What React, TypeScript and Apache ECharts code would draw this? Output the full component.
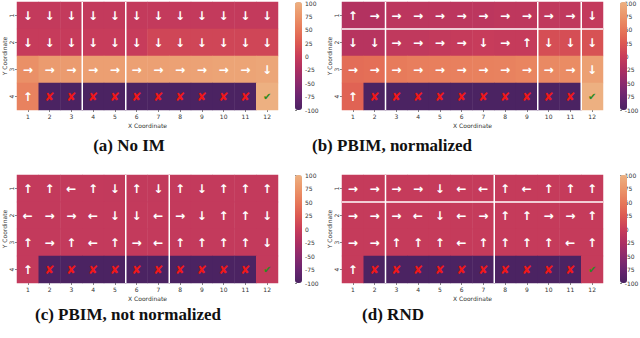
import React, { useEffect, useRef } from "react";
import * as echarts from "echarts";

const xCategories = ["1", "2", "3", "4", "5", "6", "7", "8", "9", "10", "11", "12"];
const yCategories = ["1", "2", "3", "4"];
const colorbarMin = -100;
const colorbarMax = 100;
const colorbarStep = 25;

// Cell values (rows = Y coordinate 1..4, columns = X coordinate 1..12)
const valuesNoIM = [
  [-5, -5, -5, -5, -5, -5, -5, -5, -5, -5, -5, -5],
  [-3, -3, -3, -2, -2, -2, 8, 8, 8, 8, 8, 8],
  [70, 80, 80, 84, 84, 85, 85, 86, 87, 88, 88, 90],
  [58, -100, -100, -100, -100, -100, -100, -100, -100, -100, -100, 100],
];
const valuesPBIMNorm = [
  [-20, -20, -12, -12, -12, -12, -12, -10, -10, -8, -8, -5],
  [-16, -16, -8, -8, -6, -4, -2, -4, -4, 15, 15, 18],
  [40, 42, 52, 54, 55, 56, 57, 58, 60, 64, 66, 85],
  [32, -100, -100, -100, -100, -100, -100, -100, -100, -100, -100, 100],
];
const valuesPBIMNotNorm = [
  [-5, -5, -5, -5, -6, -6, -6, -5, -5, -5, -5, -5],
  [-5, -5, -5, -5, -5, -5, -5, -5, -5, -5, -5, -5],
  [-5, -5, -5, -5, -5, -5, -5, -5, -5, -5, -5, -5],
  [-5, -100, -100, -100, -100, -100, -100, -100, -100, -100, -100, -5],
];
const valuesRND = [
  [-4, -4, -4, -4, -4, -4, -4, -4, -4, -4, -4, -4],
  [-4, -4, -4, -4, -4, -4, -4, -4, -4, -4, -4, -4],
  [-4, -4, -4, -4, -4, -4, -4, -4, -4, -4, -4, -4],
  [-4, -100, -100, -100, -100, -100, -100, -100, -100, -100, -100, -4],
];

// Policy glyph codes: U up, D down, L left, R right, X cliff, G goal
const arrowsNoIM = ["DDDDDDDDDDDD", "DDDDDDDDDDDD", "RRRRRRRRRRRD", "UXXXXXXXXXXG"];
const arrowsPBIMNorm = ["URRRRRRRRRRD", "DDRRRRDRUDDD", "RRRRRRRRRRRD", "UXXXXXXXXXXG"];
const arrowsPBIMNotNorm = ["UULUDUDUDUUU", "LRRLDDLRDUUD", "URULURLUUUUD", "UXXXXXXXXXXG"];
const arrowsRND = ["RRRRDLLULUUU", "RRRLDLRUURRU", "RRUUULUUUULU", "UXXXXXXXXXXG"];

// White separator lines: [boundary index, orientation 0 = vertical, 1 = horizontal]
const wallsNoIM = [[3, 0], [5, 0]];
const wallsPBIMNorm = [[2, 0], [9, 0], [11, 0], [1, 1]];
const wallsPBIMNotNorm = [[5, 0], [7, 0]];
const wallsRND = [[2, 0], [7, 0], [1, 1]];

const captions = ["(a) No IM", "(b) PBIM, normalized", "(c) PBIM, not normalized", "(d) RND"];

const glyphs: Record<string, string> = { U: "↑", D: "↓", L: "←", R: "→", X: "✘", G: "✔" };

const palette = [
  "#4b2362", "#6a2570", "#8c2a6d", "#ad2f62", "#c93d5a",
  "#dd5a52", "#e7795a", "#eb966a", "#edb081",
];

const layout = [
  { grid: { left: 15, top: 2, width: 263, height: 108 }, bar: 295, cap: [129, 148] },
  { grid: { left: 342, top: 2, width: 261, height: 108 }, bar: 620, cap: [392, 148] },
  { grid: { left: 15, top: 175, width: 263, height: 108 }, bar: 295, cap: [128, 317] },
  { grid: { left: 342, top: 175, width: 261, height: 108 }, bar: 620, cap: [393, 317] },
];

const panelValues = [valuesNoIM, valuesPBIMNorm, valuesPBIMNotNorm, valuesRND];
const panelArrows = [arrowsNoIM, arrowsPBIMNorm, arrowsPBIMNotNorm, arrowsRND];
const panelWalls = [wallsNoIM, wallsPBIMNorm, wallsPBIMNotNorm, wallsRND];

const axisFont = { fontFamily: "DejaVu Sans", fontSize: 6, color: "#333" };

function buildOption() {
  const grids: any[] = [];
  const xAxes: any[] = [];
  const yAxes: any[] = [];
  const heatSeries: any[] = [];
  const wallSeries: any[] = [];
  const visualMaps: any[] = [];

  layout.forEach((L, i) => {
    grids.push({ ...L.grid });
    xAxes.push({
      type: "category", gridIndex: i, data: xCategories,
      name: "X Coordinate", nameLocation: "middle", nameGap: 12,
      nameTextStyle: { ...axisFont },
      axisLine: { show: false }, splitLine: { show: false },
      axisTick: { show: true, alignWithLabel: true, length: 2, lineStyle: { color: "#333", width: 0.6 } },
      axisLabel: { ...axisFont, margin: 3 },
    });
    yAxes.push({
      type: "category", gridIndex: i, data: yCategories, inverse: true,
      name: "Y Coordinate", nameLocation: "middle", nameGap: 10,
      nameTextStyle: { ...axisFont },
      axisLine: { show: false }, splitLine: { show: false },
      axisTick: { show: true, alignWithLabel: true, length: 2, lineStyle: { color: "#333", width: 0.6 } },
      axisLabel: { ...axisFont, margin: 3, rotate: 90 },
    });
  });

  // colorbar label axes
  layout.forEach((L, i) => {
    grids.push({ left: L.bar, top: L.grid.top, width: 7, height: L.grid.height });
    xAxes.push({ type: "value", gridIndex: 4 + i, show: false, min: 0, max: 1 });
    yAxes.push({
      type: "value", gridIndex: 4 + i, position: "right",
      min: colorbarMin, max: colorbarMax, interval: colorbarStep,
      axisLine: { show: false }, splitLine: { show: false },
      axisTick: { show: true, length: 2, lineStyle: { color: "#333", width: 0.6 } },
      axisLabel: { ...axisFont, margin: 3 },
    });
  });

  panelValues.forEach((vals, i) => {
    const arrows = panelArrows[i];
    const data: number[][] = [];
    vals.forEach((row, r) => row.forEach((v, c) => data.push([c, r, v])));
    heatSeries.push({
      type: "heatmap", xAxisIndex: i, yAxisIndex: i, data,
      emphasis: { disabled: true },
      label: {
        show: true,
        formatter: (p: any) => {
          const code = arrows[p.value[1]][p.value[0]];
          if (code === "X") return "{x|✘}";
          if (code === "G") return "{g|✔}";
          return "{a|" + glyphs[code] + "}";
        },
        rich: {
          a: { color: "#ffffff", fontSize: 12, fontWeight: "bold", fontFamily: "DejaVu Sans" },
          x: { color: "#f01818", fontSize: 12, fontWeight: "bold", fontFamily: "DejaVu Sans" },
          g: { color: "#2b8a1c", fontSize: 10, fontWeight: "bold", fontFamily: "DejaVu Sans" },
        },
      },
    });
    visualMaps.push({
      type: "continuous", seriesIndex: i, min: colorbarMin, max: colorbarMax,
      left: layout[i].bar, top: layout[i].grid.top, itemWidth: 7, itemHeight: layout[i].grid.height,
      padding: 0, calculable: false, realtime: false, text: null, hoverLink: false,
      inRange: { color: palette },
    });
  });

  panelWalls.forEach((walls, i) => {
    wallSeries.push({
      type: "custom", xAxisIndex: i, yAxisIndex: i, data: walls, silent: true, z: 5, clip: false,
      renderItem: (params: any, api: any) => {
        const k = api.value(0);
        const o = api.value(1);
        const c0 = api.coord([0, 0]);
        const size = api.size([1, 1]);
        const w = Math.abs(size[0]);
        const h = Math.abs(size[1]);
        const left = c0[0] - w / 2;
        const top = c0[1] - h / 2;
        const nx = xCategories.length;
        const ny = yCategories.length;
        const shape = o === 0
          ? { x1: left + k * w, y1: top, x2: left + k * w, y2: top + ny * h }
          : { x1: left, y1: top + k * h, x2: left + nx * w, y2: top + k * h };
        return { type: "line", shape, style: { stroke: "#ffffff", lineWidth: 1.5 } };
      },
    });
  });

  // Captions as titles (serif, bold)
  const titles = captions.map((t, i) => ({
    text: t,
    left: layout[i].cap[0],
    top: layout[i].cap[1] - 11,
    textAlign: "center",
    padding: 0,
    textStyle: {
      fontFamily: "'Liberation Serif', 'DejaVu Serif', serif",
      fontWeight: "bold",
      fontSize: 17,
      color: "#111",
    },
  }));

  return {
    animation: false,
    backgroundColor: "#ffffff",
    title: titles,
    grid: grids,
    xAxis: xAxes,
    yAxis: yAxes,
    visualMap: visualMaps,
    series: [...heatSeries, ...wallSeries],
  };
}

export default function App() {
  const ref = useRef<HTMLDivElement>(null);
  useEffect(() => {
    if (!ref.current) return;
    const chart = echarts.init(ref.current, undefined, { renderer: "svg" });
    chart.setOption(buildOption() as any);
    return () => chart.dispose();
  }, []);
  return (
    <div
      ref={ref}
      style={{ position: "fixed", left: 0, top: 0, width: 640, height: 338, background: "#fff" }}
    />
  );
}
